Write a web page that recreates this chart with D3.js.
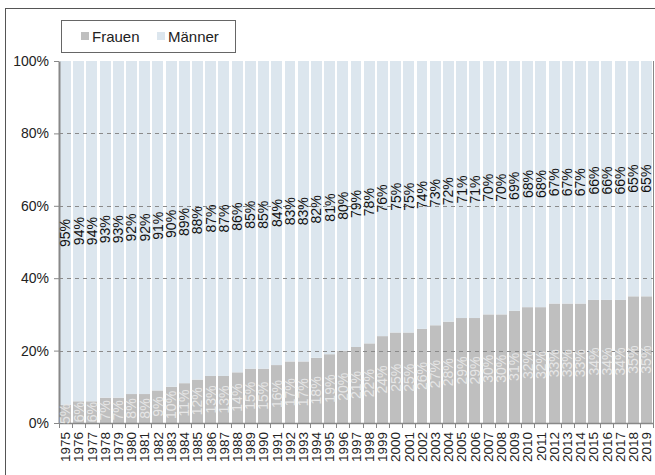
<!DOCTYPE html>
<html><head><meta charset="utf-8">
<script src="https://cdn.jsdelivr.net/npm/d3@7"></script>
<style>body{margin:0;background:#fff}svg{display:block;font-family:"Liberation Sans",Arial,sans-serif}</style>
</head><body>
<script>
const years = d3.range(1975, 2020).map(String);
const frauen = [5,6,6,7,7,8,8,9,10,11,12,13,13,14,15,15,16,17,17,18,19,20,21,22,24,25,25,26,27,28,29,29,30,30,31,32,32,33,33,33,34,34,34,35,35];
const maenner = [95,94,94,93,93,92,92,91,90,89,88,87,87,86,85,85,84,83,83,82,81,80,79,78,76,75,75,74,73,72,71,71,70,70,69,68,68,67,67,67,66,66,66,65,65];
const yTicks = [0,20,40,60,80,100];
const seriesNames = ["Frauen","Männer"];
const colors = ["#bfbfbf","#dce6ee"];

const W=655,H=475;
const FONT="Liberation Sans, Arial, sans-serif";
const svg=d3.select("body").append("svg").attr("width",W).attr("height",H);
svg.append("rect").attr("x",5.5).attr("y",8.5).attr("width",700).attr("height",500).attr("fill","none").attr("stroke","#555").attr("stroke-width",1);

const L=59,R=653,T=61,B=423;
const x=d3.scaleBand().domain(years).range([L,R]).paddingInner(0.17).paddingOuter(0.08);
const y=d3.scaleLinear().domain([0,100]).range([B,T]);
const bx=yr=>Math.round(x(yr));
const bw=yr=>Math.round(x(yr)+x.bandwidth())-Math.round(x(yr));

const g=svg.append("g");
years.forEach((yr,i)=>{
  g.append("rect").attr("x",bx(yr)).attr("width",bw(yr)).attr("y",y(frauen[i])).attr("height",y(0)-y(frauen[i])).attr("fill",colors[0]);
  g.append("rect").attr("x",bx(yr)).attr("width",bw(yr)).attr("y",y(frauen[i]+maenner[i])).attr("height",y(frauen[i])-y(frauen[i]+maenner[i])).attr("fill",colors[1]);
});

// gridlines
svg.append("g").selectAll("line").data(yTicks.filter(d=>d>0&&d<100)).join("line")
 .attr("x1",L).attr("x2",R).attr("y1",d=>Math.round(y(d))+0.5).attr("y2",d=>Math.round(y(d))+0.5)
 .attr("stroke","#8a8a8a").attr("stroke-dasharray","4,4");

// y axis
const ya=svg.append("g").attr("transform",`translate(${L},0)`).call(d3.axisLeft(y).tickValues(yTicks).tickFormat(d=>d+"%").tickSize(5).tickSizeOuter(0));
ya.select(".domain").attr("stroke","#888").attr("stroke-width",2);
ya.selectAll(".tick line").attr("stroke","#888");
ya.selectAll("text").attr("font-size",14).attr("fill","#222").attr("x",-10).attr("font-family",FONT);

// x axis
const xa=svg.append("g").attr("transform",`translate(0,${B})`).call(d3.axisBottom(x).tickSize(0).tickSizeOuter(0));
xa.select(".domain").attr("stroke","#888").attr("stroke-width",1.5);
xa.selectAll("text").attr("font-size",13.5).attr("fill","#222").attr("font-family",FONT)
  .attr("transform","rotate(-90)").attr("text-anchor","end").attr("x",-9).attr("y",0).attr("dy","0.35em");
const step=x.step();
svg.append("g").selectAll("line").data(years.concat(["end"])).join("line")
  .attr("x1",(d,i)=>Math.round(x(years[0])-x.paddingInner()*step/2+i*step)+0.5)
  .attr("x2",(d,i)=>Math.round(x(years[0])-x.paddingInner()*step/2+i*step)+0.5)
  .attr("y1",B).attr("y2",B+5).attr("stroke","#888");
// right plot border
svg.append("line").attr("x1",R+0.5).attr("x2",R+0.5).attr("y1",T).attr("y2",B).attr("stroke","#888");

// value labels
const lab=svg.append("g").attr("font-size",14).attr("font-family",FONT);
years.forEach((yr,i)=>{
  const cx=x(yr)+x.bandwidth()/2;
  const cm=(y(frauen[i])+y(frauen[i]+maenner[i]))/2;
  lab.append("text").attr("transform",`translate(${cx},${cm}) rotate(-90)`).attr("text-anchor","middle").attr("dy","0.35em").attr("fill","#111").text(maenner[i]+"%");
  const cf=(y(0)+y(frauen[i]))/2;
  lab.append("text").attr("transform",`translate(${cx},${cf}) rotate(-90)`).attr("text-anchor","middle").attr("dy","0.35em").attr("fill","#e6e6e6").text(frauen[i]+"%");
});

// legend
const lg=svg.append("g");
lg.append("rect").attr("x",61.5).attr("y",20.5).attr("width",174).attr("height",32).attr("fill","#fff").attr("stroke","#666");
seriesNames.forEach((n,i)=>{
  const lx=[81,157][i];
  lg.append("rect").attr("x",lx).attr("y",32).attr("width",8).attr("height",8).attr("fill",colors[i]);
  lg.append("text").attr("x",lx+11).attr("y",41.5).attr("font-size",15).attr("fill","#222").attr("font-family",FONT).text(n);
});
</script>
</body></html>
